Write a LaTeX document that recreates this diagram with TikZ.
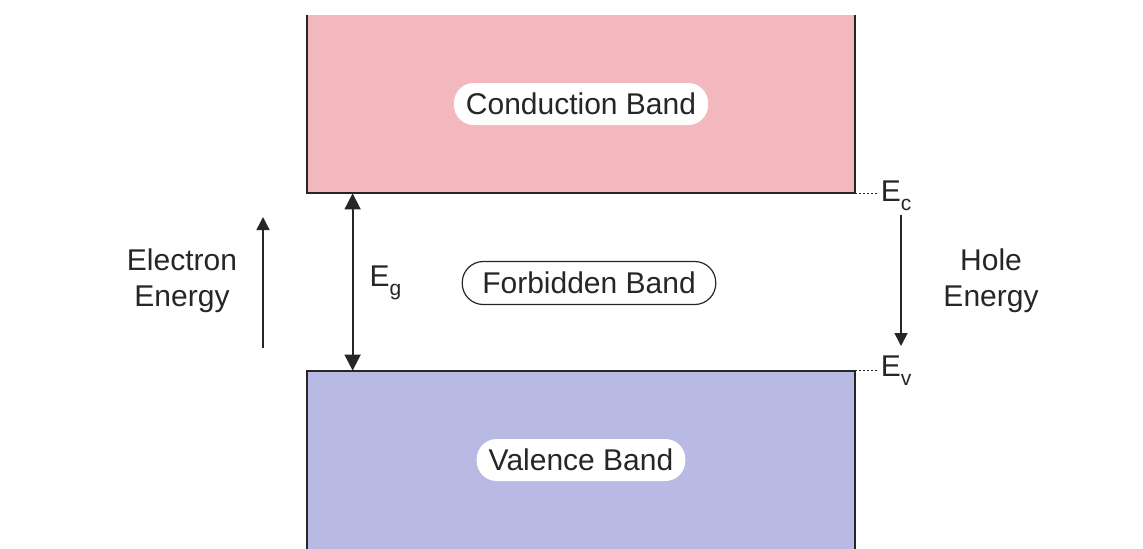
\documentclass[tikz,border=0pt]{standalone}
\usepackage{fontspec}
\setmainfont{Liberation Sans}
\usetikzlibrary{arrows.meta,positioning}
\definecolor{condpink}{HTML}{F2B8BE}
\definecolor{valblue}{HTML}{B9BAE3}
\definecolor{ink}{HTML}{262626}
\newcommand{\lowsub}[1]{\raisebox{-4.5pt}{\fontsize{10.5}{12}\selectfont #1}}

\begin{document}
\begin{tikzpicture}[x=0.5pt,y=-0.5pt,>={Triangle[length=6.5pt,width=6.5pt]},
    font=\fontsize{15}{18}\selectfont,text=ink,
    band/.style={minimum width=274pt,minimum height=89pt,inner sep=0pt},
    tag/.style={fill=white,rounded corners=10pt,inner xsep=6pt,minimum height=21pt},
    gap/.style={draw=ink,line width=0.6pt,rounded corners=10.5pt,inner xsep=10pt,
                minimum height=21.5pt},
    edge/.style={draw=ink,line width=1pt},
    energy/.style={draw=ink,line width=0.8pt,->},
    level/.style={anchor=west,inner sep=1pt}]
    \useasboundingbox (0,0) rectangle (1143,548);

    % the two bands
    \node[band,fill=condpink] (cb) at (581,104) {};
    \node[band,fill=valblue] (vb) at (581,460) {};
    \draw[edge] (cb.north west)--(cb.south west)--(cb.south east)--(cb.north east);
    \draw[edge] (vb.south west)--(vb.north west)--(vb.north east)--(vb.south east);
    \node[tag] (cbl) at (cb) {Conduction Band};
    \node[tag] (vbl) at (vb) {Valence Band};
    \node[gap] (fb) at (589,283) {Forbidden Band};

    % band gap
    \coordinate (gtop) at ([xshift=23pt]cb.south west);
    \coordinate (gbot) at ([xshift=23pt]vb.north west);
    \draw[edge,line width=0.9pt,<->,>={Triangle[length=8pt,width=8pt]}] (gtop)--(gbot);
    \node[right=5pt of gtop|-fb,yshift=0pt] (eg) {E\lowsub{g}};

    % levels
    \coordinate (ecend) at ([xshift=11.5pt]cb.south east);
    \coordinate (evend) at ([xshift=11.5pt]vb.north east);
    \draw[ink,line width=0.7pt,dash pattern=on 1pt off 1pt] (cb.south east)--(ecend);
    \draw[ink,line width=0.7pt,dash pattern=on 1pt off 1pt] (vb.north east)--(evend);
    \node[level,yshift=-1pt] (ec) at (ecend) {E\lowsub{c}};
    \node[level,yshift=0pt] (ev) at (evend) {E\lowsub{v}};

    % energy directions
    \coordinate (eup0) at (263,348);
    \coordinate (eup1) at (263,217);
    \coordinate (hdn0) at (901,215);
    \coordinate (hdn1) at (901,346);
    \draw[energy] (eup0)--(eup1);
    \draw[energy] (hdn0)--(hdn1);
    \node[align=center] (elec) at (182,281) {Electron\\Energy};
    \node[align=center] (hole) at (991,281) {Hole\\Energy};
\end{tikzpicture}
\end{document}
